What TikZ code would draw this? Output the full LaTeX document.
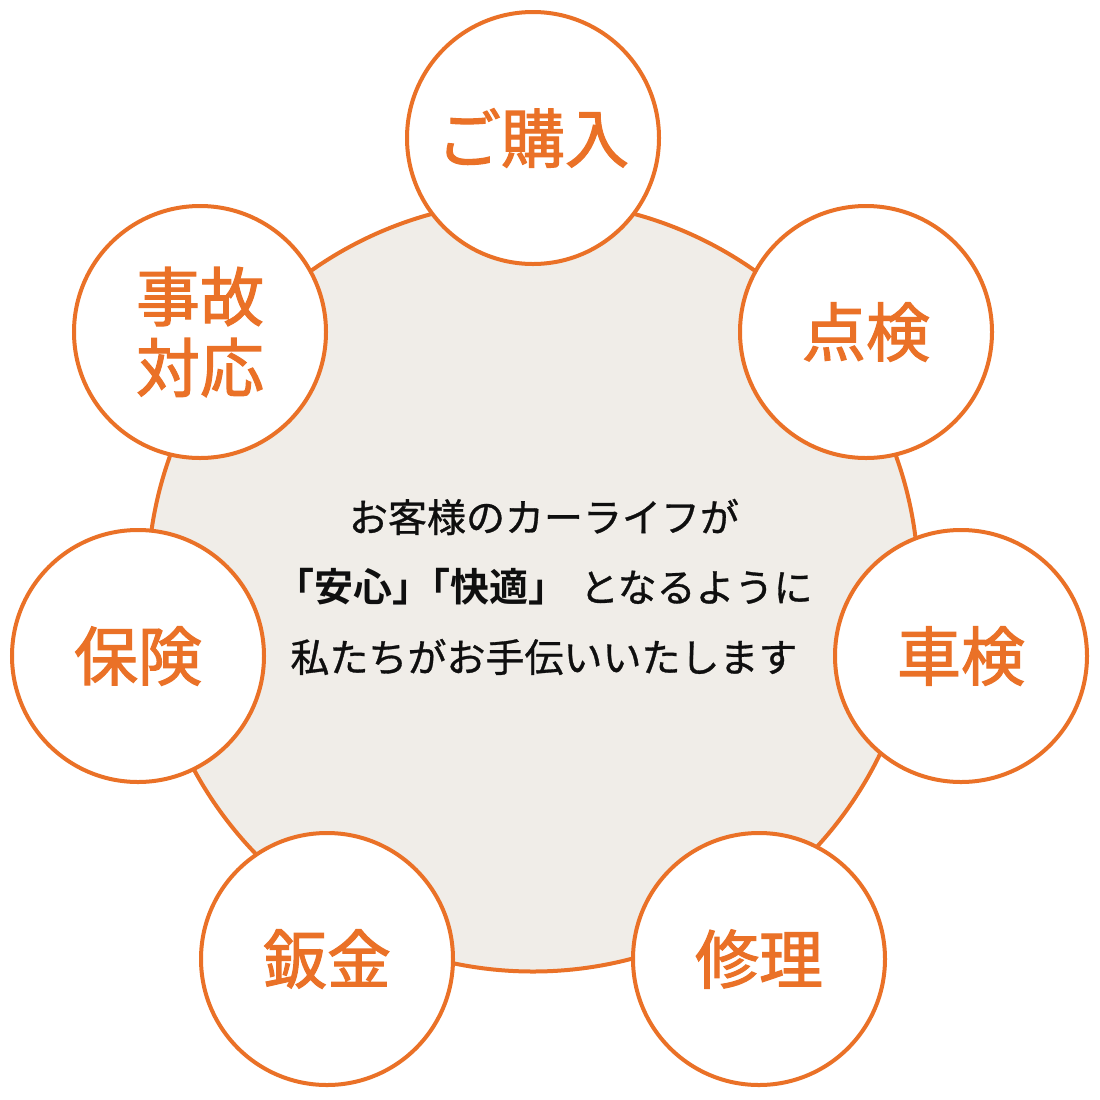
\documentclass[tikz,border=0pt]{standalone}
\usepackage{fontspec}
\newfontfamily\cjk[FakeBold=0.8]{Noto Sans CJK JP}
\newfontfamily\cjkbold[FakeBold=1.8]{Noto Sans CJK JP}
\newfontfamily\cjkheavy[BoldFont={Noto Sans CJK JP Bold}]{Noto Sans CJK JP}
\definecolor{orng}{RGB}{234,113,39}
\definecolor{beige}{RGB}{240,237,232}
\definecolor{ink}{RGB}{15,15,15}
\tikzset{
  hubcircle/.style={circle, draw=orng, line width=4bp, fill=beige, minimum size=771bp, inner sep=0pt},
  itemcircle/.style={circle, draw=orng, line width=4bp, fill=white, minimum size=252bp, inner sep=0pt},
  itemlabel/.style={text=orng, font=\cjkbold\fontsize{64bp}{71bp}\selectfont, align=center, inner sep=0pt},
  hubtext/.style={text=ink, font=\cjk\fontsize{39bp}{70bp}\selectfont, align=center, inner sep=0pt}
}
\begin{document}
\begin{tikzpicture}[x=1bp,y=-1bp]
\useasboundingbox (0,0) rectangle (1100,1100);
\node[hubcircle] (hub) at (533,586) {};
\node[itemcircle] (c1) at (533,138) {};
\node[itemcircle] (c2) at (866,332) {};
\node[itemcircle] (c3) at (961,656) {};
\node[itemcircle] (c4) at (759,959) {};
\node[itemcircle] (c5) at (327,959) {};
\node[itemcircle] (c6) at (138,656) {};
\node[itemcircle] (c7) at (200,332) {};
\node[itemlabel] (t1) at (c1) {ご購入};
\node[itemlabel] (t2) at (c2) {点検};
\node[itemlabel] (t3) at (c3) {車検};
\node[itemlabel] (t4) at (c4) {修理};
\node[itemlabel] (t5) at (c5) {鈑金};
\node[itemlabel] (t6) at (c6) {保険};
\node[itemlabel] (t7) at (c7) {事故\\対応};
\node[hubtext] (msg) at (544,587) {お客様のカーライフが\\{\cjkheavy\bfseries 「安心」\kern-0.5em「快適」}\kern12bp となるように\\私たちがお手伝いいたします};
\end{tikzpicture}
\end{document}
